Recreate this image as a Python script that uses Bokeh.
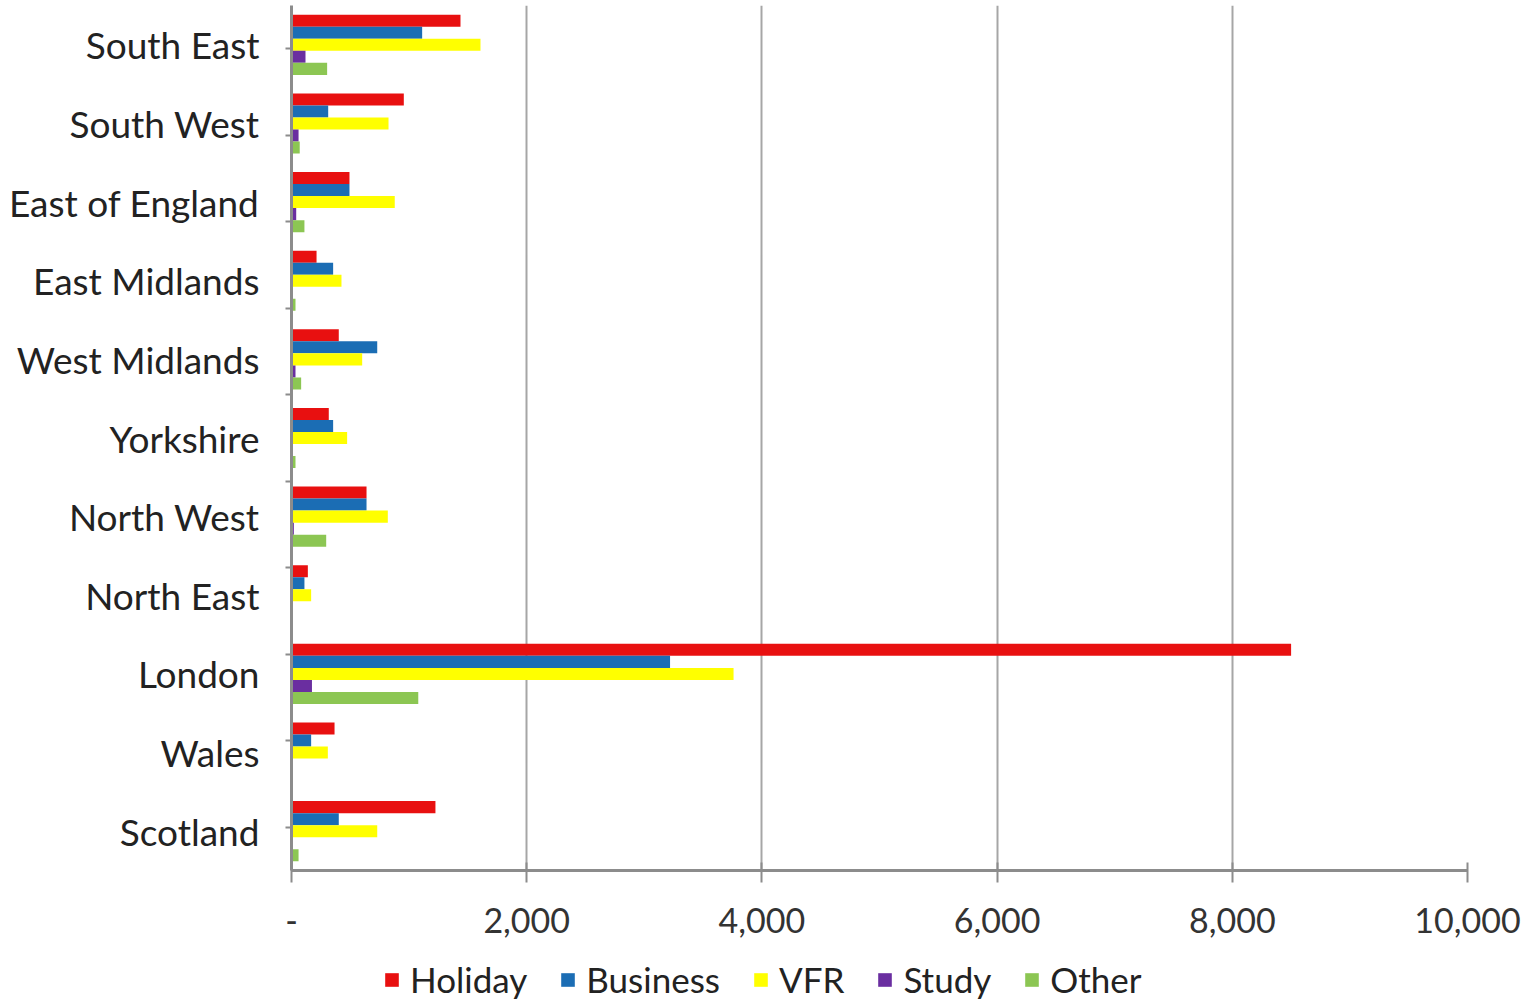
from bokeh.plotting import figure
from bokeh.models import (FactorRange, ColumnDataSource, Legend, LegendItem, FixedTicker,
                          CategoricalAxis, Range1d)
from bokeh.layouts import column
from bokeh.transform import dodge
from bokeh.embed import file_html
from bokeh.resources import INLINE

regions = ["South East", "South West", "East of England", "East Midlands", "West Midlands",
           "Yorkshire", "North West", "North East", "London", "Wales", "Scotland"]
holiday = [1437, 955, 493, 213, 402, 317, 638, 139, 8500, 366, 1224]
business = [1111, 312, 493, 354, 729, 354, 638, 110, 3219, 167, 402]
vfr = [1607, 825, 878, 425, 601, 473, 819, 167, 3759, 309, 729]
study = [119, 60, 40, 10, 34, 10, 20, 5, 174, 10, 10]
other = [303, 70, 110, 34, 82, 34, 295, 5, 1078, 10, 60]
series_names = ["Holiday", "Business", "VFR", "Study", "Other"]
x_ticks = [0, 2000, 4000, 6000, 8000, 10000]
x_tick_labels = ["-", "2,000", "4,000", "6,000", "8,000", "10,000"]

colors = ["#e81010", "#1b6db4", "#ffff00", "#6a2ea0", "#8cc653"]
FONT = "Lato"

src = ColumnDataSource(dict(region=regions, Holiday=holiday, Business=business,
                            VFR=vfr, Study=study, Other=other))

p = figure(width=1524, height=952, output_backend="svg", toolbar_location=None,
           y_range=FactorRange(factors=regions[::-1]), x_range=(0, 10000),
           y_axis_location=None,
           min_border_left=291, min_border_right=57, min_border_top=5,
           min_border_bottom=82)
p.outline_line_color = None

# category-boundary tick marks: a hidden factor range whose factors sit on the band edges
bounds = ["b%d" % i for i in range(len(regions) + 1)]
p.extra_y_ranges = {"bounds": FactorRange(factors=bounds, range_padding=-1,
                                          range_padding_units="absolute")}
bax = CategoricalAxis(y_range_name="bounds",
                      major_label_text_font_size="0px", major_label_standoff=0,
                      major_label_text_color=None,
                      axis_line_color="#8c8c8c", axis_line_width=3,
                      major_tick_line_color="#8c8c8c", major_tick_line_width=2,
                      major_tick_out=6, major_tick_in=0)
p.add_layout(bax, "left")

cax = CategoricalAxis(axis_line_color=None, major_tick_line_color=None, major_tick_out=0,
                      major_tick_in=0, major_label_standoff=26,
                      major_label_text_font=FONT, major_label_text_font_size="37px",
                      major_label_text_color="#222222")
p.add_layout(cax, "left")

step = 0.153
for i, (name, col) in enumerate(zip(series_names, colors)):
    off = (2 - i) * step
    p.hbar(y=dodge("region", off, range=p.y_range), right=name, left=0,
           height=step, source=src, color=col, line_color=None)

p.xgrid.grid_line_color = "#a6a6a6"
p.xgrid.grid_line_width = 2
p.ygrid.grid_line_color = None
p.xaxis.ticker = FixedTicker(ticks=x_ticks)
p.xaxis.major_label_overrides = {t: l for t, l in zip(x_ticks, x_tick_labels)}
p.xaxis.axis_line_color = "#8c8c8c"
p.xaxis.axis_line_width = 3
p.xaxis.major_tick_line_color = "#8c8c8c"
p.xaxis.major_tick_line_width = 2
p.xaxis.major_tick_out = 12
p.xaxis.major_tick_in = 8
p.xaxis.minor_tick_line_color = None
p.xaxis.major_label_standoff = 25
p.xaxis.major_label_text_font = FONT
p.xaxis.major_label_text_font_size = "34px"
p.xaxis.major_label_text_color = "#333333"

# legend strip underneath (its renderers are hidden; only their legend swatches show)
lp = figure(width=1524, height=50, output_backend="svg", toolbar_location=None,
            y_range=FactorRange(factors=regions[::-1]), x_range=Range1d(-2, -1),
            x_axis_location=None, y_axis_location=None,
            min_border_left=0, min_border_right=0, min_border_top=0, min_border_bottom=0)
lp.outline_line_color = None
lp.grid.grid_line_color = None
items = []
for i, (name, col) in enumerate(zip(series_names, colors)):
    r = lp.hbar(y="region", right=name, left=0, height=step, source=src,
                color=col, line_color=None, visible=False)
    items.append(LegendItem(label=name, renderers=[r]))

legend = Legend(items=items, orientation="horizontal", location=(92, 2),
                border_line_color=None, background_fill_alpha=0,
                inactive_fill_alpha=0,
                label_text_font=FONT, label_text_font_size="35px", label_text_color="#222222",
                glyph_width=17, glyph_height=17, label_standoff=10, spacing=32,
                padding=0, margin=0)
lp.add_layout(legend, "center")

layout = column(p, lp, spacing=0)
open("out.html", "w").write(file_html(layout, INLINE))
